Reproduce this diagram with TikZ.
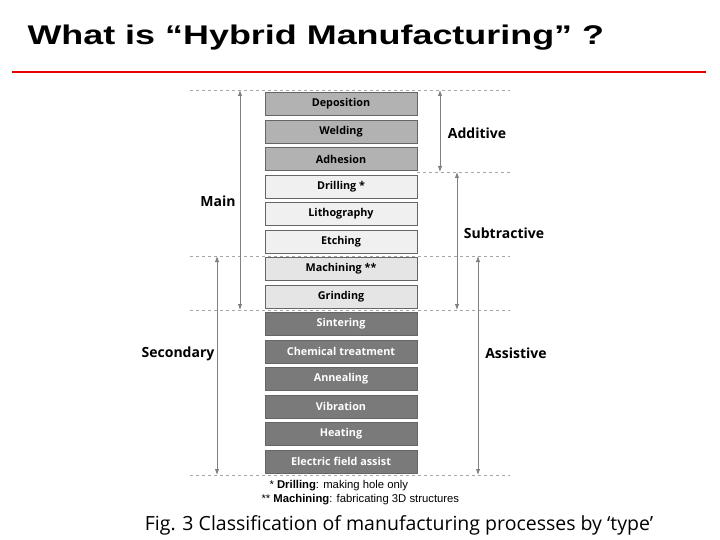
\documentclass[tikz,border=0pt]{standalone}
\usepackage{fontspec}
\usepackage{graphicx}
\setmainfont{Open Sans}
\newfontfamily\titlefont{Liberation Sans}
\usetikzlibrary{arrows.meta}
\usetikzlibrary{positioning}

\begin{document}
\begin{tikzpicture}[x=1pt,y=-1pt]
    \tikzset{proc/.style={draw=gray!80!black, rectangle, minimum width=152pt, minimum height=23pt, inner sep=0pt, font=\bfseries\fontsize{10.8}{12}\selectfont}};
    \tikzset{add/.style={proc, fill=black!30}};
    \tikzset{sub/.style={proc, fill=black!6}};
    \tikzset{mach/.style={proc, fill=black!10}};
    \tikzset{asst/.style={proc, fill=black!52, text=white}};
    \tikzset{guide/.style={draw=black!35, dashed, line width=0.6pt}};
    \tikzset{span/.style={draw=black!50, line width=0.9pt, {Latex[length=6pt,width=4.5pt]}-{Latex[length=6pt,width=4.5pt]}}};
    \tikzset{group/.style={font=\bfseries\fontsize{14}{16}\selectfont}};
    \useasboundingbox (0,0) rectangle (720,540);
    % title
    \node[anchor=west, font=\titlefont\bfseries\fontsize{27}{29}\selectfont] (title) at (24,38) {\scalebox{1.33}[1]{What is “Hybrid Manufacturing” ?}};
    \coordinate (rl) at (12,72);
    \coordinate (rr) at (706,72);
    \draw[red!90!black, line width=2.5pt] (rl) -- (rr);
    % process boxes
    \node[add] (dep) at (341,104) {Deposition};
    \node[add] (wel) at (341,131.5) {Welding};
    \node[add] (adh) at (341,159) {Adhesion};
    \node[sub] (dri) at (341,186.5) {Drilling *};
    \node[sub] (lit) at (341,214) {Lithography};
    \node[sub] (etc) at (341,241.5) {Etching};
    \node[mach] (mac) at (341,269) {Machining **};
    \node[mach] (gri) at (341,296.5) {Grinding};
    \node[asst] (sin) at (341,324) {Sintering};
    \node[asst] (che) at (341,351.5) {Chemical treatment};
    \node[asst] (ann) at (341,379) {Annealing};
    \node[asst] (vib) at (341,406.5) {Vibration};
    \node[asst] (hea) at (341,434) {Heating};
    \node[asst] (ele) at (341,461.5) {Electric field assist};
    % dashed guides
    \foreach \n/\y/\xa in {a/90/190, b/172/417, c/256/190, d/310/190, e/475/190} {
        \coordinate (g\n l) at (\xa,\y);
        \coordinate (g\n r) at (510,\y);
        \draw[guide] (g\n l) -- (g\n r);
    }
    % spans
    \path[span] (240,90) -- (240,310);
    \path[span] (217,256) -- (217,475);
    \path[span] (440,90) -- (440,172);
    \path[span] (457,172) -- (457,310);
    \path[span] (478,256) -- (478,475);
    \node[group] (main) at (218,201) {Main};
    \node[group] (sec) at (178,354) {Secondary};
    \node[group] (addl) at (477,133) {Additive};
    \node[group] (subl) at (504,233) {Subtractive};
    \node[group] (assl) at (516,353) {Assistive};
    % notes
    \node[anchor=west, font=\titlefont\fontsize{11.3}{12}\selectfont] (n1) at (266,486) {* \textbf{Drilling}: making hole only};
    \node[anchor=west, font=\titlefont\fontsize{11.3}{12}\selectfont] (n2) at (258,500) {** \textbf{Machining}: fabricating 3D structures};
    \node[font=\fontsize{19.5}{22}\selectfont] (cap) at (399,525) {Fig. 3 Classification of manufacturing processes by ‘type’};
\end{tikzpicture}
\end{document}
